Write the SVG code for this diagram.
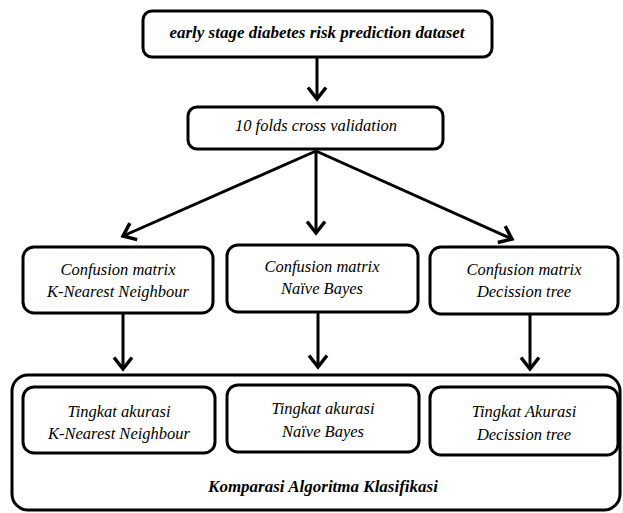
<svg xmlns="http://www.w3.org/2000/svg" width="623" height="513" viewBox="0 0 623 513">
<style>
.box{fill:#fff;stroke:#000;stroke-width:3}
text{font-family:'Liberation Serif','Times New Roman','DejaVu Serif',serif;font-style:italic;font-size:16.5px;fill:#000;text-anchor:middle}
.b{font-weight:bold;font-size:17px}
.c{fill:none;stroke:#000;stroke-width:3}
</style>
<defs>
<marker id="ah" markerUnits="userSpaceOnUse" markerWidth="30" markerHeight="30" viewBox="-15 -15 30 30" refX="0" refY="0" orient="auto">
<path d="M-11.5,-9 L0,0 L-11.5,9" fill="none" stroke="#000" stroke-width="3.5" stroke-linejoin="miter"/>
</marker>
</defs>
<rect width="623" height="513" fill="#fff"/>
<g id="outer">
<rect class="box" x="12" y="375" width="608" height="135" rx="16"/>
<text class="b" x="323" y="492">Komparasi Algoritma Klasifikasi</text>
</g>
<g id="dataset">
<rect class="box" x="143" y="11" width="349" height="46" rx="9"/>
<text class="b" x="317" y="38">early stage diabetes risk prediction dataset</text>
</g>
<g id="cv">
<rect class="box" x="188" y="107" width="255" height="42" rx="9"/>
<text x="316" y="131">10 folds cross validation</text>
</g>
<g id="cm-knn">
<rect class="box" x="23" y="247" width="190" height="66" rx="11"/>
<text x="118" y="275">Confusion matrix</text>
<text x="118" y="297">K-Nearest Neighbour</text>
</g>
<g id="cm-nb">
<rect class="box" x="227" y="245" width="191" height="67" rx="11"/>
<text x="322" y="272">Confusion matrix</text>
<text x="322" y="294">Naïve Bayes</text>
</g>
<g id="cm-dt">
<rect class="box" x="430" y="247" width="188" height="67" rx="11"/>
<text x="524" y="275">Confusion matrix</text>
<text x="524" y="297">Decission tree</text>
</g>
<g id="acc-knn">
<rect class="box" x="23" y="387" width="192" height="66" rx="11"/>
<text x="119" y="417">Tingkat akurasi</text>
<text x="119" y="439">K-Nearest Neighbour</text>
</g>
<g id="acc-nb">
<rect class="box" x="227" y="385" width="192" height="67" rx="11"/>
<text x="323" y="414">Tingkat akurasi</text>
<text x="323" y="437">Naïve Bayes</text>
</g>
<g id="acc-dt">
<rect class="box" x="430" y="387" width="188" height="68" rx="11"/>
<text x="524" y="417">Tingkat Akurasi</text>
<text x="524" y="440">Decission tree</text>
</g>
<g id="connectors">
<line class="c" x1="317" y1="57" x2="317" y2="99" marker-end="url(#ah)"/>
<line class="c" x1="316" y1="151" x2="123" y2="236" marker-end="url(#ah)"/>
<line class="c" x1="316" y1="151" x2="316" y2="233" marker-end="url(#ah)"/>
<line class="c" x1="316" y1="151" x2="512" y2="239" marker-end="url(#ah)"/>
<line class="c" x1="123" y1="313" x2="123" y2="369" marker-end="url(#ah)"/>
<line class="c" x1="318" y1="312" x2="318" y2="367" marker-end="url(#ah)"/>
<line class="c" x1="530" y1="314" x2="530" y2="369" marker-end="url(#ah)"/>
</g>
</svg>
